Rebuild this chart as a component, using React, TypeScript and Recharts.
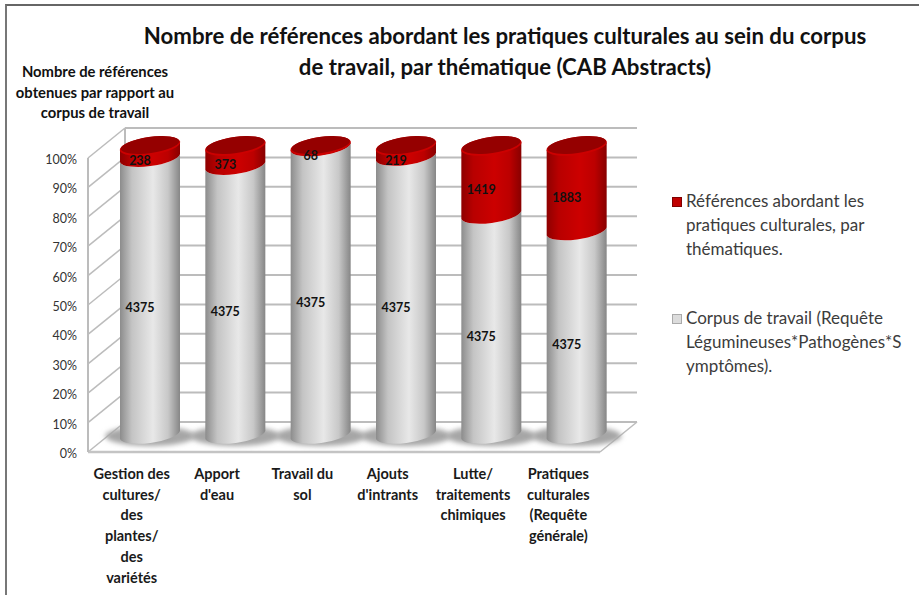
import { Bar, BarChart, CartesianGrid, LabelList, XAxis, YAxis } from "recharts";

const FONT = "Lato, 'Noto Sans', sans-serif";

const categories = [
  "Gestion des cultures/ des plantes/ des variétés",
  "Apport d'eau",
  "Travail du sol",
  "Ajouts d'intrants",
  "Lutte/ traitements chimiques",
  "Pratiques culturales (Requête générale)",
];
const categoryLines = [
  ["Gestion des", "cultures/", "des", "plantes/", "des", "variétés"],
  ["Apport", "d'eau"],
  ["Travail du", "sol"],
  ["Ajouts", "d'intrants"],
  ["Lutte/", "traitements", "chimiques"],
  ["Pratiques", "culturales", "(Requête", "générale)"],
];
const corpusValues = [4375, 4375, 4375, 4375, 4375, 4375];
const referenceValues = [238, 373, 68, 219, 1419, 1883];
const yTicks = [0, 0.1, 0.2, 0.3, 0.4, 0.5, 0.6, 0.7, 0.8, 0.9, 1];

const titleLines = [
  "Nombre de références abordant les pratiques culturales au sein du corpus",
  "de travail, par thématique (CAB Abstracts)",
];
const yTitleLines = ["Nombre de références", "obtenues par rapport au", "corpus de travail"];
const referenceLegend = ["Références abordant les", "pratiques culturales, par", "thématiques."];
const corpusLegend = ["Corpus de travail (Requête", "Légumineuses*Pathogènes*S", "ymptômes)."];

const chartData = categories.map((category, i) => ({
  category,
  corpus: corpusValues[i],
  references: referenceValues[i],
}));

// the fake 3d: bars sit halfway into the floor, the back wall is further up and right
const BAR_DX = 19;
const BAR_DY = -15;
const WALL_DX = 37;
const WALL_DY = -30;
const TILT = 4;
const RY = 9;

function side(x: number, w: number, yTop: number, yBottom: number) {
  const rx = w / 2 + 0.5;
  return (
    `M${x},${yTop + TILT} L${x},${yBottom + TILT} ` +
    `A${rx},${RY} -8 0 0 ${x + w},${yBottom - TILT} L${x + w},${yTop - TILT} ` +
    `A${rx},${RY} -8 0 1 ${x},${yTop + TILT} Z`
  );
}

function CorpusShape({ x, y, width, height }: any) {
  const left = x + BAR_DX;
  const yTop = y + BAR_DY;
  const yBottom = y + height + BAR_DY - 2;
  return (
    <g>
      <ellipse cx={left + width / 2} cy={yBottom + 1} rx={width / 2 + 15} ry={RY + 1} fill="#a6a6a6" filter="url(#soft)" />
      <path d={side(left, width, yTop, yBottom)} fill="url(#greyBody)" />
    </g>
  );
}

function ReferenceShape({ x, y, width, height }: any) {
  const left = x + BAR_DX;
  const yTop = y + BAR_DY + 3;
  const yBottom = y + height + BAR_DY;
  const cx = left + width / 2;
  return (
    <g>
      <path d={side(left, width, yTop, yBottom)} fill="url(#redBody)" />
      <ellipse cx={cx} cy={yTop} rx={width / 2 + 0.5} ry={RY} transform={`rotate(-8 ${cx} ${yTop})`} fill="#cc0000" />
      <ellipse cx={cx} cy={yTop - 1} rx={width / 2 - 0.5} ry={RY - 1} transform={`rotate(-8 ${cx} ${yTop - 1})`} fill="#950000" />
    </g>
  );
}

function BarValue({ x, y, width, height, value }: any) {
  return (
    <text
      x={x + width / 2 + 9}
      y={y + height / 2 - 5}
      textAnchor="middle"
      dominantBaseline="central"
      fontFamily={FONT}
      fontSize={12.5}
      fontWeight={700}
      fill="#111"
    >
      {value}
    </text>
  );
}

function CategoryTick({ x, payload }: any) {
  return (
    <text x={x + 1} textAnchor="middle" fontFamily={FONT} fontSize={14.5} fontWeight={700} fill="#1a1a1a">
      {categoryLines[payload.index].map((line, i) => (
        <tspan key={line + i} x={x + 1} y={479 + i * 20.7}>
          {line}
        </tspan>
      ))}
    </text>
  );
}

function WallLine({ x1, y1, x2 }: any) {
  const isFloor = y1 > 450;
  return (
    <g stroke="#bcbcbc" strokeWidth={2} fill="none">
      <line x1={x1 + WALL_DX} y1={y1 + WALL_DY} x2={x2 + WALL_DX} y2={y1 + WALL_DY} />
      <line x1={x1} y1={y1} x2={x1 + WALL_DX} y2={y1 + WALL_DY} strokeWidth={1.5} />
      {isFloor ? (
        <>
          <line x1={x1} y1={y1} x2={x2} y2={y1} strokeWidth={2.5} stroke="#c4c4c4" />
          <line x1={x2} y1={y1} x2={x2 + WALL_DX} y2={y1 + WALL_DY} strokeWidth={1.5} />
          <line x1={x1} y1={y1} x2={x1} y2={158} strokeWidth={2} />
          <line x1={x1 + WALL_DX} y1={y1 + WALL_DY} x2={x1 + WALL_DX} y2={128} strokeWidth={2} />
        </>
      ) : null}
    </g>
  );
}

function YTick({ x, y, payload }: any) {
  return (
    <text x={x} y={y + 1.5} textAnchor="end" dominantBaseline="central" fontFamily={FONT} fontSize={12.5} fill="#333">
      {`${Math.round(payload.value * 100)}%`}
    </text>
  );
}

function LegendBlock({ lines, top, color, edge }: { lines: string[]; top: number; color: string; edge: string }) {
  return (
    <div style={{ position: "absolute", left: 686, top, fontFamily: FONT, fontSize: 17, lineHeight: "24px", color: "#3c3c3c", whiteSpace: "nowrap" }}>
      <span style={{ position: "absolute", left: -14, top: 8, width: 8, height: 8, background: color, border: `1px solid ${edge}` }} />
      {lines.map((line) => (
        <div key={line}>{line}</div>
      ))}
    </div>
  );
}

export default function App() {
  return (
    <div style={{ position: "absolute", left: 0, top: 0, width: 919, height: 595, background: "#fff", overflow: "hidden" }}>
      <div style={{ position: "absolute", left: 5, top: 4, width: 914, height: 591, borderLeft: "2px solid #777", borderTop: "2px solid #666", boxSizing: "border-box" }} />
      <div style={{ position: "absolute", left: 100, top: 20, width: 810, textAlign: "center", fontFamily: FONT, fontSize: 22.2, fontWeight: 700, lineHeight: "31px", color: "#111" }}>
        {titleLines.map((line) => (
          <div key={line}>{line}</div>
        ))}
      </div>
      <div style={{ position: "absolute", left: 5, top: 61, width: 180, textAlign: "center", fontFamily: FONT, fontSize: 14.8, fontWeight: 700, lineHeight: "20.5px", color: "#111" }}>
        {yTitleLines.map((line) => (
          <div key={line}>{line}</div>
        ))}
      </div>
      <BarChart
        width={919}
        height={595}
        data={chartData}
        stackOffset="expand"
        margin={{ top: 158, right: 319, bottom: 0, left: 0 }}
        style={{ position: "absolute", left: 0, top: 0 }}
      >
        <defs>
          <linearGradient id="greyBody" x1="0" x2="1" y1="0" y2="0">
            <stop offset="0" stopColor="#8c8c8c" />
            <stop offset="0.2" stopColor="#c4c4c4" />
            <stop offset="0.55" stopColor="#e8e8e8" />
            <stop offset="0.8" stopColor="#c8c8c8" />
            <stop offset="1" stopColor="#868686" />
          </linearGradient>
          <linearGradient id="redBody" x1="0" x2="1" y1="0" y2="0">
            <stop offset="0" stopColor="#8e0000" />
            <stop offset="0.2" stopColor="#b80000" />
            <stop offset="0.55" stopColor="#cc0000" />
            <stop offset="0.8" stopColor="#bc0000" />
            <stop offset="1" stopColor="#880000" />
          </linearGradient>
          <filter id="soft" x="-20%" y="-50%" width="140%" height="200%">
            <feGaussianBlur stdDeviation="2.5" />
          </filter>
        </defs>
        <CartesianGrid vertical={false} horizontal={(props: any) => <WallLine key={props.key ?? props.y1} {...props} />} />
        <XAxis dataKey="category" height={143} axisLine={false} tickLine={false} interval={0} tick={<CategoryTick />} />
        <YAxis width={88} domain={[0, 1]} ticks={yTicks} axisLine={false} tickLine={false} tickMargin={5} tick={<YTick />} />
        <Bar dataKey="corpus" stackId="total" barSize={60} shape={<CorpusShape />} isAnimationActive={false}>
          <LabelList dataKey="corpus" content={<BarValue />} />
        </Bar>
        <Bar dataKey="references" stackId="total" barSize={60} shape={<ReferenceShape />} isAnimationActive={false}>
          <LabelList dataKey="references" content={<BarValue />} />
        </Bar>
      </BarChart>
      <LegendBlock lines={referenceLegend} top={189} color="#c00000" edge="#800000" />
      <LegendBlock lines={corpusLegend} top={306} color="#dcdcdc" edge="#aaaaaa" />
    </div>
  );
}
